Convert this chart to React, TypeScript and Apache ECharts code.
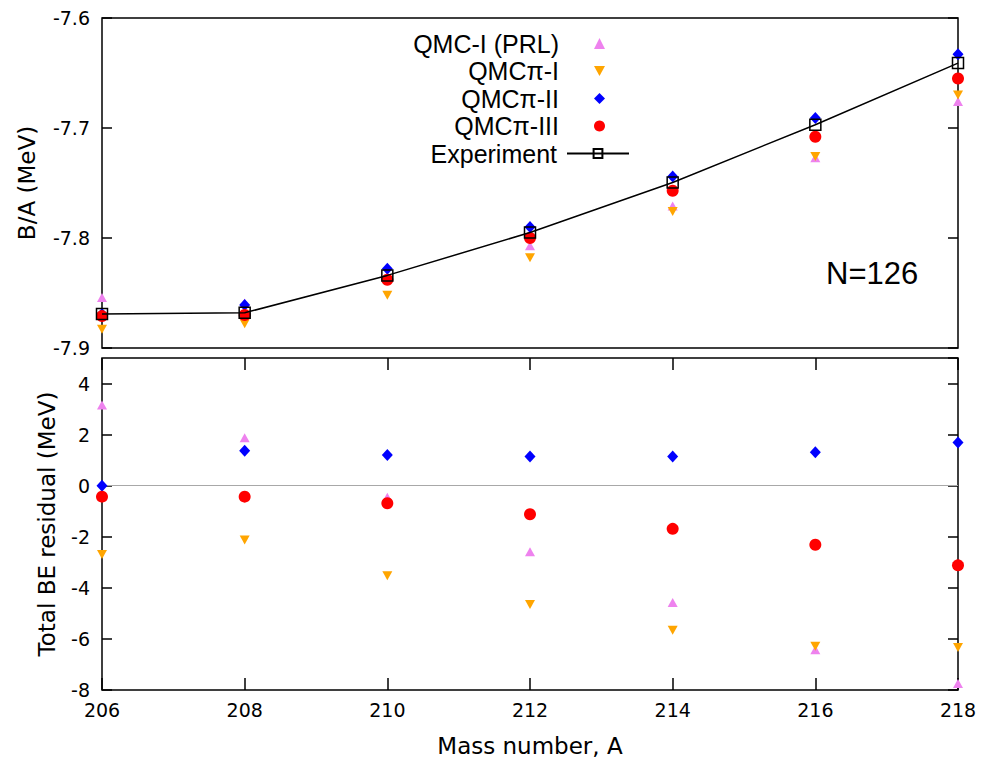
import React, { useEffect, useRef } from "react";
import * as echarts from "echarts";

const massNumbers = [206, 208, 210, 212, 214, 216, 218];

// Binding energy per nucleon (MeV)
const qmcIPrlBA = [-7.854, -7.859, -7.836, -7.807, -7.771, -7.727, -7.676];
const qmcPiIBA = [-7.883, -7.878, -7.852, -7.818, -7.776, -7.726, -7.670];
const qmcPiIIBA = [-7.869, -7.861, -7.828, -7.790, -7.744, -7.691, -7.633];
const qmcPiIIIBA = [-7.871, -7.870, -7.838, -7.800, -7.757, -7.708, -7.655];
const experimentBA = [-7.869, -7.868, -7.834, -7.795, -7.7495, -7.697, -7.641];

// Total binding energy residuals (MeV)
const qmcIPrlRes = [3.16, 1.88, -0.45, -2.59, -4.57, -6.42, -7.75];
const qmcPiIRes = [-2.69, -2.13, -3.53, -4.65, -5.66, -6.29, -6.34];
const qmcPiIIRes = [0.0, 1.37, 1.2, 1.14, 1.14, 1.31, 1.69];
const qmcPiIIIRes = [-0.43, -0.43, -0.69, -1.12, -1.69, -2.31, -3.12];

const seriesNames = ["QMC-I (PRL)", "QMCπ-I", "QMCπ-II", "QMCπ-III", "Experiment"];
const zeroLineValue = 0;
const annotationText = "N=126";

const FONT = "DejaVu Sans";
const LEGEND_FONT = "Liberation Sans";
const INVERTED_TRIANGLE = "path://M0,0L10,0L5,9Z";

const pair = (ys: number[]) => massNumbers.map((x, i) => [x, ys[i]]);

export default function App() {
  const ref = useRef<HTMLDivElement>(null);

  useEffect(() => {
    if (!ref.current) return;
    const chart = echarts.init(ref.current, null, { renderer: "svg" });

    const tickLabel = { color: "#000", fontFamily: FONT, fontSize: 19 };
    const axisLine = { show: false, onZero: false };
    const tick = (len: number) => ({
      show: true,
      inside: true,
      length: len,
      lineStyle: { color: "#000", width: 1.5 },
    });

    const markers = [
      { name: seriesNames[0], symbol: "triangle", size: [10, 9], color: "#ee82ee" },
      { name: seriesNames[1], symbol: INVERTED_TRIANGLE, size: [10, 9], color: "#ffa500" },
      { name: seriesNames[2], symbol: "diamond", size: [11, 12], color: "#0000ff" },
      { name: seriesNames[3], symbol: "circle", size: 12, color: "#ff0000" },
    ];
    const topData = [qmcIPrlBA, qmcPiIBA, qmcPiIIBA, qmcPiIIIBA];
    const botData = [qmcIPrlRes, qmcPiIRes, qmcPiIIRes, qmcPiIIIRes];

    const series: any[] = [];
    markers.forEach((m, i) => {
      series.push({
        type: "scatter",
        name: m.name,
        xAxisIndex: 0,
        yAxisIndex: 0,
        symbol: m.symbol,
        symbolSize: m.size,
        itemStyle: { color: m.color, opacity: 1 },
        data: pair(topData[i]),
      });
    });
    series.push({
      type: "line",
      name: seriesNames[4],
      xAxisIndex: 0,
      yAxisIndex: 0,
      symbol: "rect",
      symbolSize: 11,
      showAllSymbol: true,
      lineStyle: { color: "#000", width: 1.5 },
      itemStyle: { color: "rgba(0,0,0,0)", borderColor: "#000", borderWidth: 1.5, opacity: 1 },
      data: pair(experimentBA),
      z: 5,
    });
    markers.forEach((m, i) => {
      const s: any = {
        type: "scatter",
        name: m.name,
        xAxisIndex: 1,
        yAxisIndex: 2,
        symbol: m.symbol,
        symbolSize: m.size,
        itemStyle: { color: m.color, opacity: 1 },
        data: pair(botData[i]),
      };
      if (i === 0) {
        s.markLine = {
          silent: true,
          symbol: "none",
          label: { show: false },
          lineStyle: { color: "#a8a8a8", width: 1, type: "solid" },
          data: [{ yAxis: zeroLineValue }],
          z: 1,
        };
      }
      series.push(s);
    });

    const legendText = (pad: number) => ({
      color: "#000",
      fontFamily: LEGEND_FONT,
      fontSize: 25,
      lineHeight: 25,
      padding: [0, pad, 0, 0],
    });

    const option: any = {
      animation: false,
      backgroundColor: "#fff",
      grid: [
        { left: 102, top: 18, width: 856, height: 330, show: true, borderColor: "#000", borderWidth: 1.5, backgroundColor: "transparent" },
        { left: 102, top: 358, width: 856, height: 332, show: true, borderColor: "#000", borderWidth: 1.5, backgroundColor: "transparent" },
      ],
      xAxis: [
        {
          gridIndex: 0, type: "value", min: 206, max: 218, interval: 2,
          axisLine, axisTick: { show: false }, axisLabel: { show: false }, splitLine: { show: false },
        },
        {
          gridIndex: 1, type: "value", min: 206, max: 218, interval: 2, position: "bottom",
          axisLine, axisTick: tick(12), splitLine: { show: false },
          axisLabel: { ...tickLabel, margin: 10 },
          name: "Mass number, A", nameLocation: "middle", nameGap: 44,
          nameTextStyle: { color: "#000", fontFamily: FONT, fontSize: 23 },
        },
        {
          gridIndex: 1, type: "value", min: 206, max: 218, interval: 2, position: "top",
          axisLine, axisTick: tick(12), axisLabel: { show: false }, splitLine: { show: false },
        },
      ],
      yAxis: [
        {
          gridIndex: 0, type: "value", min: -7.9, max: -7.6, interval: 0.1, position: "left",
          axisLine, axisTick: tick(10), splitLine: { show: false },
          axisLabel: { ...tickLabel, margin: 12, formatter: (v: number) => v.toFixed(1) },
          name: "B/A (MeV)", nameLocation: "middle", nameGap: 64, nameRotate: 90,
          nameTextStyle: { color: "#000", fontFamily: FONT, fontSize: 23 },
        },
        {
          gridIndex: 0, type: "value", min: -7.9, max: -7.6, interval: 0.1, position: "right",
          axisLine, axisTick: tick(10), axisLabel: { show: false }, splitLine: { show: false },
        },
        {
          gridIndex: 1, type: "value", min: -8, max: 5, interval: 2, position: "left",
          axisLine, axisTick: tick(10), splitLine: { show: false },
          axisLabel: { ...tickLabel, margin: 12, showMaxLabel: false },
          name: "Total BE residual (MeV)", nameLocation: "middle", nameGap: 44, nameRotate: 90,
          nameTextStyle: { color: "#000", fontFamily: FONT, fontSize: 23 },
        },
        {
          gridIndex: 1, type: "value", min: -8, max: 5, interval: 2, position: "right",
          axisLine, axisTick: tick(10), axisLabel: { show: false }, splitLine: { show: false },
        },
      ],
      legend: [
        {
          data: seriesNames.slice(0, 4),
          orient: "vertical",
          align: "right",
          right: 379,
          top: 31,
          padding: 0,
          itemWidth: 11,
          itemHeight: 11,
          itemGap: 2.5,
          textStyle: legendText(30),
        },
        {
          data: seriesNames.slice(4),
          orient: "vertical",
          align: "right",
          right: 354,
          top: 141,
          padding: 0,
          itemWidth: 62,
          itemHeight: 11,
          itemGap: 2.5,
          textStyle: legendText(5),
        },
      ],
      graphic: [
        {
          type: "text",
          left: 826,
          top: 258,
          style: { text: annotationText, fill: "#000", font: "31px 'Liberation Sans'" },
        },
      ],
      series,
    };

    chart.setOption(option);
    return () => chart.dispose();
  }, []);

  return (
    <div
      ref={ref}
      style={{ position: "absolute", left: 0, top: 0, width: 984, height: 760, background: "#fff" }}
    />
  );
}
